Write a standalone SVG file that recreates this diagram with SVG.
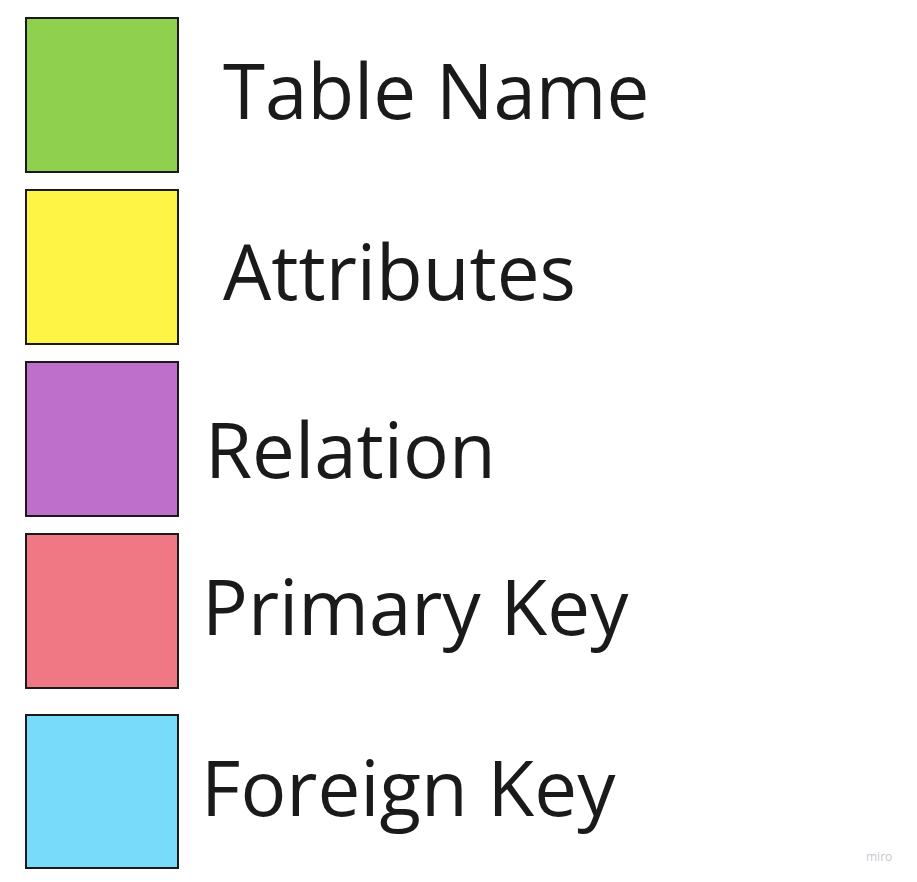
<svg xmlns="http://www.w3.org/2000/svg" width="917" height="882" viewBox="0 0 917 882">
<style>
.box{stroke:#1a1a1a;stroke-width:2}
.lbl{font-family:"Open Sans","Noto Sans",sans-serif;font-size:76.3px;fill:#1a1a1a}
.wm{font-family:"Open Sans","Noto Sans",sans-serif;font-size:12px;fill:#c8c8d0}
</style>
<rect width="917" height="882" fill="#ffffff"/>
<g id="table-name">
<rect class="box" x="26" y="18" width="152" height="154" fill="#8fd14f"/>
<text class="lbl" x="223" y="119">Table Name</text>
</g>
<g id="attributes">
<rect class="box" x="26" y="190" width="152" height="154" fill="#fef445"/>
<text class="lbl" x="223" y="300">Attributes</text>
</g>
<g id="relation">
<rect class="box" x="26" y="362" width="152" height="154" fill="#be6fcc"/>
<text class="lbl" x="205" y="478">Relation</text>
</g>
<g id="primary-key">
<rect class="box" x="26" y="534" width="152" height="154" fill="#f07884"/>
<text class="lbl" x="202" y="635">Primary Key</text>
</g>
<g id="foreign-key">
<rect class="box" x="26" y="715" width="152" height="153" fill="#78dbfa"/>
<text class="lbl" x="201" y="816">Foreign Key</text>
</g>
<g id="connectors"/>
<text class="wm" x="866" y="861">miro</text>
</svg>
